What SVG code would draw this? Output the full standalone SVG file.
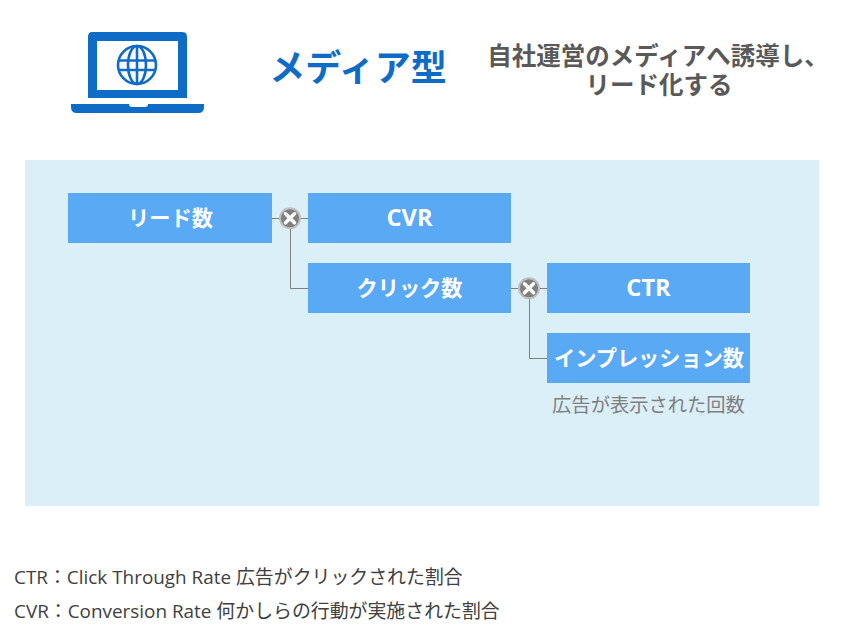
<svg xmlns="http://www.w3.org/2000/svg" width="845" height="625" viewBox="0 0 845 625">
<defs>
<g id="times"><circle r="10" fill="#7f7f7f" stroke="#bfbfbf" stroke-width="2"/><path d="M-4.500 -4.500L4.500 4.500M4.500 -4.500L-4.500 4.500" stroke="#fff" stroke-width="3.600" stroke-linecap="round" fill="none"/></g>
</defs>
<style>
text{font-family:"Open Sans","Noto Sans CJK JP","Liberation Sans",sans-serif}
.box{fill:#59a9f4}
.lab{fill:#fff;font-size:21.200px;font-weight:700;text-anchor:middle}
.latin{font-size:23.600px}
.head{fill:#595959;font-size:24.500px;font-weight:700;text-anchor:middle}
.note{fill:#404040;font-size:18.900px}
.conn{fill:none;stroke:#7f7f7f;stroke-width:1}
</style>
<rect width="845" height="625" fill="#fff"/>
<rect id="panel" x="25" y="160" width="794" height="346" fill="#dbeff8"/>
<g id="icon">
<path fill="#0f6cc6" fill-rule="evenodd" d="M92 32H182Q187 32 187 37V98H88V37Q88 32 92 32ZM97 41V90H178V41Z"/>
<path fill="#0f6cc6" d="M71 104H129Q129 107 132 107H145Q148 107 148 104H204V107Q204 113 198 113H77Q71 113 71 107Z"/>
<g fill="none" stroke="#0f6cc6" stroke-width="2.600"><circle cx="137" cy="65" r="19"/><ellipse cx="137" cy="65" rx="9" ry="19"/><path d="M137 46V84M119 60.500H155M119 70H155"/></g>
</g>
<g id="title"><text x="358" y="81" font-size="36" font-weight="700" fill="#0f6cc6" text-anchor="middle">メディア型</text></g>
<g id="subtitle"><text class="head" x="658" y="65">自社運営のメディアへ誘導し、</text><text class="head" x="659" y="94">リード化する</text></g>
<g id="connectors">
<path class="conn" d="M272 218.500H308M290.500 218.500V288.500H308M511 288.500H547M529.500 288.500V358.500H547"/>
</g>
<g id="node-lead"><rect class="box" x="68" y="193" width="204" height="50"/><text class="lab" x="170.500" y="226">リード数</text></g>
<g id="node-cvr"><rect class="box" x="308" y="193" width="203" height="50"/><text class="lab latin" x="409.500" y="226">CVR</text></g>
<g id="node-click"><rect class="box" x="308" y="263" width="203" height="50"/><text class="lab" x="409.500" y="296">クリック数</text></g>
<g id="node-ctr"><rect class="box" x="547" y="263" width="203" height="50"/><text class="lab latin" x="648.500" y="296">CTR</text></g>
<g id="node-imp"><rect class="box" x="547" y="333" width="203" height="50"/><text class="lab" x="649" y="366">インプレッション数</text></g>
<g id="op-1"><use href="#times" x="290" y="218.300"/></g>
<g id="op-2"><use href="#times" x="529" y="288.300"/></g>
<g id="caption"><text x="648.500" y="412" font-size="19.300" fill="#7f7f7f" text-anchor="middle">広告が表示された回数</text></g>
<g id="notes"><text class="note" x="14" y="584">CTR：Click Through Rate 広告がクリックされた割合</text><text class="note" x="14" y="618">CVR：Conversion Rate 何かしらの行動が実施された割合</text></g>
</svg>
